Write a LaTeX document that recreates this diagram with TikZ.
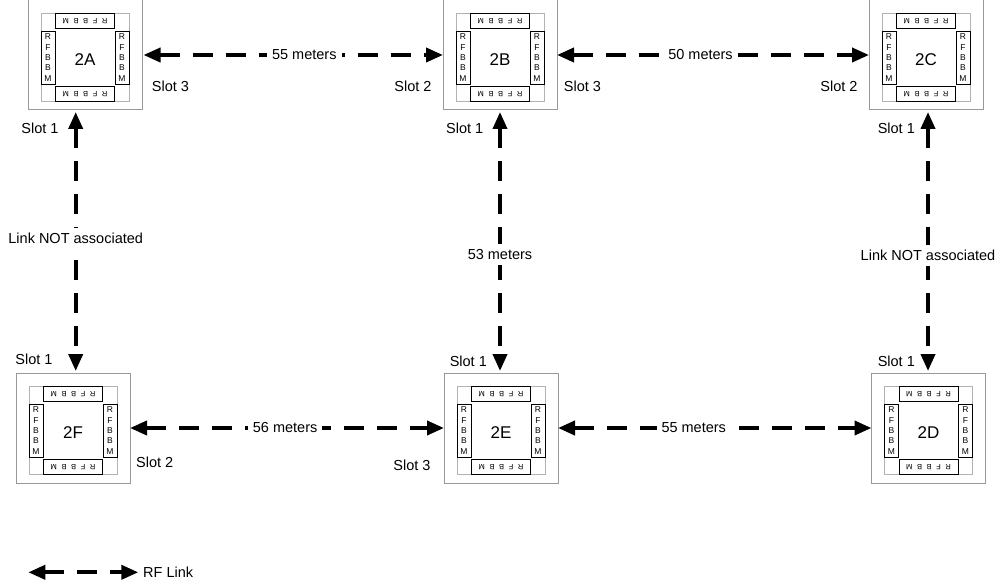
\documentclass[tikz,border=0pt]{standalone}
\usepackage{fontspec}
\setmainfont{Liberation Sans}
\usetikzlibrary{arrows.meta}
\tikzset{
  outerbox/.style={draw=black!40, line width=1pt, minimum width=114pt, minimum height=110pt, inner sep=0pt, outer sep=0pt},
  innerbox/.style={draw=black!30, line width=0.8pt, minimum width=88pt, minimum height=88pt, inner sep=0pt, outer sep=0pt},
  modv/.style={draw=black, line width=0.8pt, fill=white, minimum width=14pt, minimum height=53pt, inner sep=0pt, align=center, font=\fontsize{8.5}{10.4}\selectfont},
  modh/.style={draw=black, line width=0.8pt, fill=white, minimum width=59pt, minimum height=15pt, inner sep=0pt},
  modhtext/.style={rotate=180, inner sep=0pt, font=\fontsize{7.5}{8}\selectfont},
  boxlabel/.style={font=\fontsize{17}{19}\selectfont, inner sep=0pt},
  slotlabel/.style={font=\fontsize{14.5}{16}\selectfont, inner sep=0pt},
  linklabel/.style={font=\fontsize{14.5}{16}\selectfont, fill=white, inner sep=5pt},
  rflink/.style={line width=3.8pt, dash pattern=on 20pt off 13pt,
    {Triangle[length=17pt,width=14pt]}-{Triangle[length=17pt,width=14pt]}},
}
\newcommand\rfword{R\hspace{4.6pt}F\hspace{4.6pt}B\hspace{4.6pt}B\hspace{4.6pt}M}
\newcommand\rfunit[4]{%
  \node[outerbox] (#1) at (#2,#3) {};
  \node[innerbox] (#1in) at (#2,#3+2.5) {};
  \node[modh] (#1t) at ([yshift=36.5pt]#1in.center) {};
  \node[modhtext] (#1tt) at (#1t.center) {\rfword};
  \node[modh] (#1b) at ([yshift=-36.5pt]#1in.center) {};
  \node[modhtext] (#1bt) at (#1b.center) {\rfword};
  \node[modv] (#1l) at ([xshift=-37pt]#1in.center) {R\\F\\B\\B\\M};
  \node[modv] (#1r) at ([xshift=37pt]#1in.center) {R\\F\\B\\B\\M};
  \node[boxlabel] (#1lab) at ([yshift=-2.5pt]#1in.center) {#4};
}
\begin{document}
\begin{tikzpicture}[x=1pt,y=-1pt]
\useasboundingbox (0,0) rectangle (1003,585);
\rfunit{A}{85}{55}{2A}
\rfunit{B}{500}{55}{2B}
\rfunit{C}{926}{55}{2C}
\rfunit{F}{73}{428}{2F}
\rfunit{E}{501}{428}{2E}
\rfunit{D}{928.5}{428}{2D}
% slot labels
\node[slotlabel] (sA3) at (170.5,86) {Slot 3};
\node[slotlabel] (sA1) at (40,128) {Slot 1};
\node[slotlabel] (sB2) at (413,86) {Slot 2};
\node[slotlabel] (sB3) at (582.5,86) {Slot 3};
\node[slotlabel] (sB1) at (464.7,128) {Slot 1};
\node[slotlabel] (sC2) at (839,86) {Slot 2};
\node[slotlabel] (sC1) at (896.3,128) {Slot 1};
\node[slotlabel] (sF1) at (34,359) {Slot 1};
\node[slotlabel] (sF2) at (154.7,462.7) {Slot 2};
\node[slotlabel] (sE1) at (468.3,361.7) {Slot 1};
\node[slotlabel] (sE3) at (412,465) {Slot 3};
\node[slotlabel] (sD1) at (896.3,361.7) {Slot 1};
% horizontal links
\draw[rflink] ([xshift=1.5pt]A.east) -- (B.west) node[linklabel, pos=0.537] (lAB) {55 meters};
\draw[rflink] (B.east) -- (C.west) node[linklabel, pos=0.46] (lBC) {50 meters};
\draw[rflink] (F.east) -- (E.west) node[linklabel, pos=0.494] (lFE) {56 meters};
\draw[rflink] (E.east) -- (D.west) node[linklabel, pos=0.433] (lED) {55 meters};
% vertical links
\draw[rflink] ([xshift=-9.3pt,yshift=-2pt]A.south) -- ([xshift=2.7pt,yshift=2pt]F.north) node[linklabel, pos=0.486] (lAF) {Link NOT associated};
\draw[rflink] ([yshift=-2pt]B.south) -- ([xshift=-1pt,yshift=2pt]E.north) node[linklabel, pos=0.55] (lBE) {53 meters};
\draw[rflink] ([xshift=2pt,yshift=-2pt]C.south) -- ([xshift=-0.5pt,yshift=2pt]D.north) node[linklabel, pos=0.554] (lCD) {Link NOT associated};
% legend
\coordinate (lg1) at (28.3,572.3);
\coordinate (lg2) at (138.3,572.3);
\draw[rflink] (lg1) -- (lg2);
\node[slotlabel, anchor=west] (lgtext) at (143,572.3) {RF Link};
\end{tikzpicture}
\end{document}
